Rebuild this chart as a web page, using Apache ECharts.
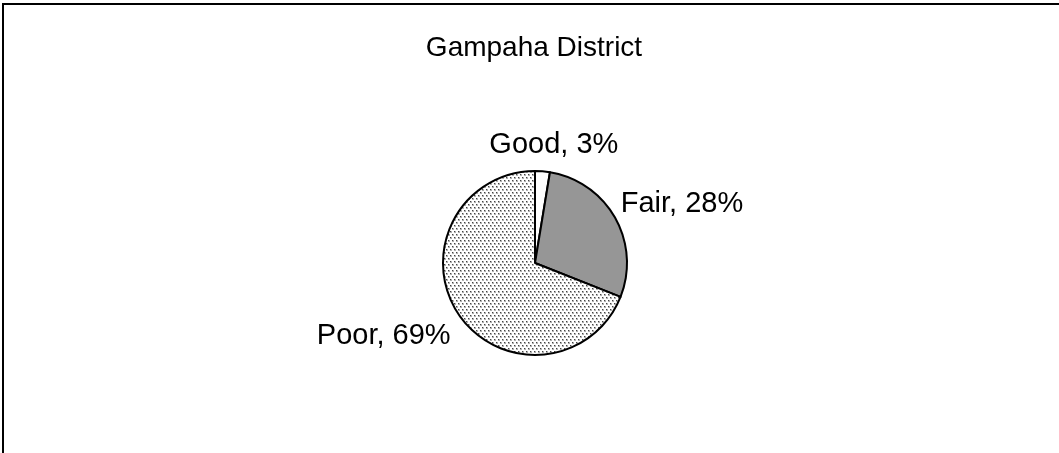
<!DOCTYPE html>
<html>
<head>
<meta charset="utf-8">
<script src="https://cdn.jsdelivr.net/npm/echarts@6/dist/echarts.min.js"></script>
<style>
html,body{margin:0;padding:0;background:#fff;}
#chart{width:1059px;height:453px;}
</style>
</head>
<body>
<div id="chart"></div>
<script>
// Data
var titleText = 'Gampaha District';
var categories = ['Good', 'Fair', 'Poor'];
var values = [2.6, 28.4, 69.0];

// dotted pattern for "Poor"
function makeDots() {
  var c = document.createElement('canvas');
  c.width = 4; c.height = 6;
  var g = c.getContext('2d');
  g.fillStyle = '#ffffff';
  g.fillRect(0, 0, 4, 6);
  g.fillStyle = '#b0b0b0';
  g.fillRect(0, 0, 2, 2);
  g.fillRect(2, 3, 2, 2);
  g.fillStyle = '#444444';
  g.fillRect(0, 0, 1, 1);
  g.fillRect(2, 3, 1, 1);
  return c;
}
var dots = makeDots();
var fills = ['#ffffff', '#969696', { image: dots, repeat: 'repeat' }];
var labelOffsets = [[-59, -16], [-8, -9], [5, 16]];

var chart = echarts.init(document.getElementById('chart'), null, { renderer: 'canvas' });
var font = 'Arial, "Liberation Sans", sans-serif';
chart.setOption({
  animation: false,
  backgroundColor: '#ffffff',
  title: {
    text: titleText,
    left: 529,
    textAlign: 'center',
    top: 29,
    textStyle: { fontFamily: font, fontSize: 28, fontWeight: 'normal', color: '#000' }
  },
  graphic: [{
    type: 'rect',
    shape: { x: 3, y: 4, width: 1100, height: 500 },
    style: { fill: 'none', stroke: '#000', lineWidth: 2 },
    silent: true
  }],
  series: [{
    type: 'pie',
    center: [535, 263],
    radius: 92,
    startAngle: 90,
    clockwise: true,
    percentPrecision: 0,
    itemStyle: { borderColor: '#000', borderWidth: 2 },
    label: {
      show: true,
      position: 'outside',
      formatter: '{b}, {d}%',
      fontFamily: font,
      fontSize: 29,
      color: '#000'
    },
    labelLine: { show: false, length: 10, length2: 0 },
    emphasis: { disabled: true },
    data: categories.map(function (c, i) {
      return { name: c, value: values[i], itemStyle: { color: fills[i] }, label: { offset: labelOffsets[i] } };
    })
  }]
});
</script>
</body>
</html>
